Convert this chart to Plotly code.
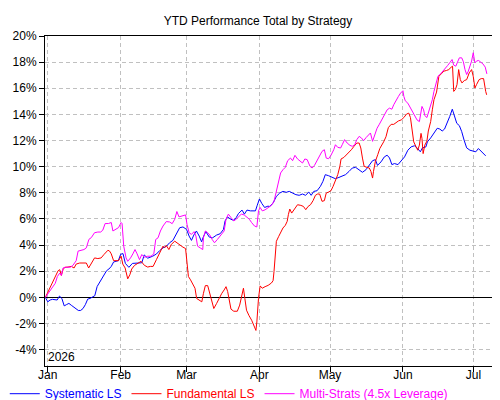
import pandas as pd
import plotly.graph_objects as go

# days since 2026-01-01 and YTD performance (%)
sys_days = [-1, 0, 1, 2, 4, 5, 6, 7, 8, 9, 10, 11, 13, 14, 15, 16, 17, 18, 20, 21,
            22, 23, 24, 25, 26, 27, 28, 29, 30, 31, 32, 33, 34.5, 36, 38, 40, 41, 42.5, 44.6, 46.2,
            47.6, 49, 50.5, 51.8, 53.2, 54.6, 56.1, 57.5, 59, 60.1, 61.1, 62.1, 63.2, 64.4, 65.4, 66.1,
            67.2, 68.7, 70.1, 71.8, 73.3, 74.7, 75.4, 76.4, 77.8, 79, 80.1, 81.1, 82.6, 83.6, 84.7, 86.2,
            88.3, 89, 90, 91, 92.2, 93.6, 94.4, 95.8, 97.2, 98.6, 100, 101.4, 102.7, 104.1, 105.5, 106.9,
            108.3, 109.6, 111, 112, 113.1, 114.5, 115.9, 117, 118, 119.4, 120.9, 122.3, 123.8, 125.2, 126.6, 128.1,
            129.5, 130.9, 132.4, 133.8, 135.3, 136.7, 138.1, 139.3, 140.2, 141.7, 143.1, 144.3, 145.3, 146.3,
            147.4, 148.9, 150.3, 151.7, 153.1, 154.5, 155.9, 157.3, 158.4, 159.3, 160.8, 161.4, 162.8, 164.2,
            165.6, 166.7, 167.7, 168.7, 169.8, 170.9, 172, 173, 173.9, 175, 176, 177, 178.1, 179.5,
            180.9, 182, 183.1, 184.4, 186.2]
sys_vals = [0, -0.34, -0.2, -0.15, -0.2, 0.1, -0.08, -0.65, -0.55, -0.46, -0.6, -0.72, -1.0, -1.0, -0.85, -0.55, -0.13, -0.08, 0.13, 0.83,
            1.16, 1.47, 1.78, 2.04, 2.17, 2.37, 2.71, 2.76, 2.81, 3.3, 3.35, 2.6, 2.3, 2.6, 2.65, 2.65, 3.25, 3.0, 3.15, 3.32,
            3.58, 3.79, 3.92, 4.18, 4.36, 4.87, 5.33, 5.39, 5.2, 4.69, 4.36, 4.77, 5.08, 4.69, 4.25, 4.61,
            5.03, 4.61, 4.56, 4.77, 4.87, 5.2, 5.85, 6.16, 5.98, 5.9, 6.1, 6.42, 6.68, 6.37, 6.68, 6.62,
            6.62, 7.01, 7.53, 7.19, 6.88, 6.98, 6.96, 7.22, 7.73, 7.98, 8.11, 8.04, 8.11, 7.98, 7.86, 7.81,
            7.91, 7.81, 8.06, 7.81, 8.11, 8.16, 8.49, 8.88, 9.39, 9.31, 9.18, 9.08, 9.18, 9.26, 9.39, 9.64,
            9.9, 9.95, 9.77, 9.57, 9.77, 10.1, 10.46, 10.54, 10.1, 10.37, 10.75, 10.88, 10.67, 10.16,
            10.24, 10.16, 10.42, 10.75, 11.26, 11.52, 11.6, 11.39, 11.14, 11.44, 11.52, 11.9, 12.2, 12.55,
            12.94, 12.88, 12.73, 12.88, 13.32, 13.84, 14.4, 13.91, 13.32, 13.14, 12.68, 12.04, 11.44, 11.26,
            11.19, 11.14, 11.39, 11.14, 10.83]

fund_days = [-1, 0.1, 1.3, 2.3, 3.2, 4.4, 5.1, 5.8, 6.5, 7.2, 8.6, 10, 11.2, 12.1, 13.6, 15, 16.4, 17.4, 18.5, 19.9,
             21.3, 22.7, 23.9, 25.6, 26.3, 27, 28, 29.1, 30.1, 31.2, 31.9, 32.9, 34, 34.9, 35.7, 36.9, 38.3, 39.7, 41.1, 42.5,
             43.6, 44.8, 46.2, 47.6, 49, 49.7, 50.4, 51.5, 52.5, 54, 54.9, 56.1, 57.5, 58.6, 59.2, 59.8, 60.7, 61.9, 62.6, 63.3,
             64.5, 65.5, 66.2, 67, 68, 68.9, 69.6, 70.6, 71.8, 72.8, 74, 75, 75.8, 76.5, 77.2, 77.9, 79.1, 80.6, 81.6, 82.6,
             83.2, 83.8, 84.5, 85.5, 86.7, 87.9, 88.5, 88.9, 89.6, 90.3, 91.2, 92.4, 93.7, 95.1, 95.8, 96.2, 96.8, 97.2, 98.2, 99,
             100, 101, 101.8, 102.3, 102.9, 103.7, 104.8, 106.2, 107.6, 108.7, 109.7, 110.7, 111.7, 112.8, 113.8, 114.7, 115.6, 116.6, 117.6, 118.4,
             119.4, 120.4, 121.3, 122.3, 123.3, 124.2, 124.7, 125.9, 127.1, 128.1, 129.1, 130.2, 131.4, 132.4, 133.1, 133.8, 134.5, 135.7, 136.7, 137.4,
             138.1, 138.5, 139.3, 140.3, 141.2, 142.8, 143.8, 144.8, 146, 147.1, 148.1, 149.1, 150.3, 151.4, 152.5, 153.5, 154.2, 154.8, 155.6, 156.6,
             157.3, 158, 158.7, 159.1, 159.6, 160.3, 161.2, 161.8, 162.8, 163.5, 164.2, 165.3, 166.3, 167.3, 168.4, 169.5, 170.5, 171.5, 172.1, 172.6,
             173.3, 174, 174.7, 175.4, 176.1, 177.1, 178.1, 179.2, 180.2, 180.9, 181.6, 182.3, 183.4, 184.3, 185.3, 186.2, 186.6]
fund_vals = [0, 0.44, 0.83, 1.21, 1.68, 2.04, 2.12, 1.68, 2.12, 2.3, 2.32, 2.37, 2.25, 2.55, 2.63, 2.63, 2.63, 2.25, 2.63, 3.02,
             2.97, 3.02, 3.28, 3.61, 3.54, 3.33, 2.81, 2.81, 2.81, 3.15, 2.55, 2.25, 1.42, 1.73, 2.17, 2.45, 2.63, 2.76, 2.45, 2.32,
             2.37, 2.37, 2.89, 3.4, 3.92, 3.79, 3.97, 3.66, 4.05, 4.3, 4.18, 4.0, 3.84, 3.74, 2.76, 1.6, 1.34, 1.0, 0.7, -0.08,
             -0.2, -0.34, 0.31, 0.9, 0.9, 0.31, -0.34, -0.85, -0.46, -0.08, 0.31, 0.57, 0.82, 0.44, -0.34, -0.9, -1.06, -1.06, -0.59, 0.31,
             0.7, -0.08, -0.98, -1.37, -1.75, -2.27, -2.53, -1.88, -0.08, 0.88, 0.7, 0.82, 0.92, 1.1, 1.28, 1.99, 3.52, 4.29, 4.67, 5.0,
             5.31, 5.51, 5.82, 6.33, 6.76, 6.45, 6.71, 7.09, 7.04, 6.96, 6.71, 6.96, 7.09, 7.4, 7.81, 7.91, 7.91, 7.35, 7.4, 7.98,
             8.06, 8.16, 8.49, 8.88, 9.39, 10.03, 10.59, 10.71, 10.92, 11.12, 11.3, 11.56, 11.81, 11.81, 11.43, 10.66, 10.03, 9.95, 9.9, 9.64,
             9.13, 9.64, 10.41, 10.92, 11.4, 11.9, 12.29, 12.99, 13.24, 13.24, 13.4, 13.5, 13.58, 13.76, 14.02, 14.1, 13.76, 12.81, 11.9, 11.52,
             11.26, 11.65, 12.55, 12.16, 11.0, 11.65, 11.96, 12.73, 13.45, 14.35, 15.12, 15.71, 16.92, 17.1, 17.31, 17.36, 17.43, 17.61, 17.69, 15.76,
             15.9, 16.28, 17.43, 16.66, 16.41, 16.59, 16.66, 17.18, 17.43, 16.92, 16.02, 16.28, 16.66, 16.74, 16.74, 15.76, 15.5]

multi_days = [-1, 0.1, 1.3, 2.3, 3.2, 4.1, 5.1, 5.8, 6.5, 7.5, 8.6, 9.7, 10.7, 12.1, 12.9, 14, 15.4, 16.4, 17.5, 18.5,
              19.9, 21.3, 22.5, 23.4, 24.4, 25.8, 27, 27.7, 29.1, 30.1, 31.2, 31.6, 32.3, 33.3, 34, 35.2, 36.2, 37.1, 38, 39,
              40, 41.1, 42.5, 43.9, 45.1, 45.9, 46.9, 47.9, 49, 50.4, 51.8, 52.9, 54, 54.9, 55.8, 57.2, 58.6, 59.2, 60.1, 61.1,
              62.2, 63, 63.7, 64.8, 65.9, 66.2, 67, 68, 68.9, 69.9, 70.9, 72.1, 73.3, 74.3, 75, 75.8, 76.8, 77.9, 79.1, 80.1,
              81.1, 82.3, 83.5, 84.5, 85.7, 86.7, 87.9, 88.9, 89.6, 90.3, 91.2, 92.4, 93.7, 95.1, 96.2, 97.2, 98.2, 99, 100, 101,
              102, 103.2, 104.1, 105.1, 106.2, 107.3, 108.3, 109.3, 110.3, 111.5, 112.4, 113.4, 114.5, 115.6, 116.6, 117.6, 118.4, 119.4, 120.4, 121.6,
              122.3, 123.3, 124.5, 125.2, 126.2, 127.3, 128.5, 129.5, 130.5, 131.4, 132.4, 133.4, 134.3, 135.4, 136.3, 137.2, 138.1, 138.8, 140, 141,
              142, 143.1, 144.3, 145.3, 146.3, 147.1, 148.1, 149.1, 150, 151, 151.4, 152, 153.1, 154.2, 155.2, 156.2, 157, 158, 158.7, 159.1,
              159.8, 160.3, 161.2, 161.8, 162.5, 163.5, 164.2, 164.9, 165.9, 167, 168.1, 169.1, 170, 170.9, 171.9, 172.6, 173.5, 174.4, 175, 176,
              176.7, 177.4, 178.1, 178.8, 179.5, 180.2, 180.9, 181.6, 182.3, 183.1, 183.9, 185, 186, 186.7]
multi_vals = [0, 0.31, 0.65, 0.88, 1.08, 1.6, 1.86, 1.68, 2.25, 2.3, 2.32, 2.32, 2.45, 2.81, 3.54, 3.59, 3.66, 3.79, 4.44, 4.57,
              4.95, 5.0, 5.0, 5.14, 5.65, 5.65, 5.73, 5.08, 5.21, 5.34, 5.73, 5.65, 3.92, 3.02, 2.76, 3.02, 3.33, 3.66, 3.33, 2.89,
              3.28, 3.07, 3.15, 3.15, 3.33, 4.43, 4.56, 5.08, 5.46, 5.8, 5.77, 5.64, 5.98, 6.57, 6.16, 6.24, 6.31, 5.59, 4.95, 4.82,
              5.03, 4.69, 3.92, 3.79, 3.66, 4.56, 5.08, 4.95, 4.77, 4.43, 4.18, 4.43, 4.69, 4.95, 5.08, 5.98, 6.37, 6.11, 5.85, 5.98,
              6.16, 6.37, 6.31, 6.16, 5.98, 5.72, 5.46, 5.39, 6.62, 6.88, 6.62, 6.7, 6.86, 7.04, 7.35, 8.11, 8.88, 9.52, 9.77, 9.95,
              10.46, 10.66, 10.46, 10.87, 10.59, 10.41, 10.28, 10.59, 10.54, 10.03, 9.9, 10.1, 10.46, 10.87, 11.17, 11.3, 10.66, 10.61, 10.87, 11.3,
              11.68, 11.48, 11.43, 11.68, 12.07, 11.81, 11.63, 11.56, 11.68, 12.07, 12.32, 12.19, 11.99, 12.24, 12.45, 12.58, 11.94, 12.3, 12.94, 13.25,
              13.58, 13.96, 14.35, 14.48, 14.4, 14.74, 15.12, 15.38, 15.63, 15.81, 15.38, 15.04, 14.86, 14.48, 14.17, 13.84, 13.58, 13.45, 14.09, 14.61,
              14.35, 13.91, 13.76, 14.09, 14.48, 15.12, 15.76, 16.28, 16.92, 17.1, 17.31, 17.56, 17.74, 17.95, 18.2, 17.77, 17.69, 18.08, 18.33, 18.33,
              18.03, 17.43, 17.05, 17.31, 17.69, 18.08, 18.72, 17.95, 18.08, 18.13, 18.03, 17.87, 17.62, 17.1]

y_tick_vals = [-4, -2, 0, 2, 4, 6, 8, 10, 12, 14, 16, 18, 20]
y_tick_text = ["-4%", "-2%", "0%", "2%", "4%", "6%", "8%", "10%", "12%", "14%", "16%", "18%", "20%"]

start = pd.Timestamp("2026-01-01")


def to_dates(days):
    return start + pd.to_timedelta(days, unit="D")


series = [
    ("Systematic LS", sys_days, sys_vals, "#0000ff"),
    ("Fundamental LS", fund_days, fund_vals, "#ff0000"),
    ("Multi-Strats (4.5x Leverage)", multi_days, multi_vals, "#ff00ff"),
]

fig = go.Figure()
for name, days, vals, color in series:
    fig.add_trace(go.Scatter(x=to_dates(days), y=vals, mode="lines",
                             name='<span style="color:%s">%s</span>' % (color, name),
                             line=dict(color=color, width=1)))

font = dict(family="Arial, Liberation Sans, sans-serif", size=12, color="black")
axis_style = dict(showline=True, linecolor="black", linewidth=1, mirror=True,
                  ticks="outside", ticklen=5, tickcolor="black",
                  showgrid=True, gridcolor="#c0c0c0", griddash="4px,3px", gridwidth=1,
                  tickfont=font)

fig.update_layout(
    width=500, height=400,
    margin=dict(l=37, r=16, t=28, b=42, autoexpand=False),
    paper_bgcolor="white", plot_bgcolor="white",
    font=font,
    title=dict(text="YTD Performance Total by Strategy", x=0.5, xanchor="center",
               y=0.969, yanchor="middle", font=font),
    legend=dict(orientation="h", x=-0.09, xanchor="left", y=-0.04, yanchor="top",
                font=font, itemwidth=30, bgcolor="rgba(0,0,0,0)"),
    xaxis=dict(axis_style, type="date", range=["2025-12-30 20:00", "2026-07-08 21:00"],
               tick0="2026-01-01", dtick="M1", tickformat="%b", zeroline=False,
               ticklabelstandoff=-7),
    yaxis=dict(axis_style, range=[-5.25, 20], tickvals=y_tick_vals, ticktext=y_tick_text,
               zeroline=True, zerolinecolor="black", zerolinewidth=1),
    annotations=[dict(text="2026", xref="paper", yref="paper", x=0, y=0,
                      xanchor="left", yanchor="bottom", showarrow=False,
                      xshift=1, yshift=0, font=font)],
)

fig.write_html("out.html")
